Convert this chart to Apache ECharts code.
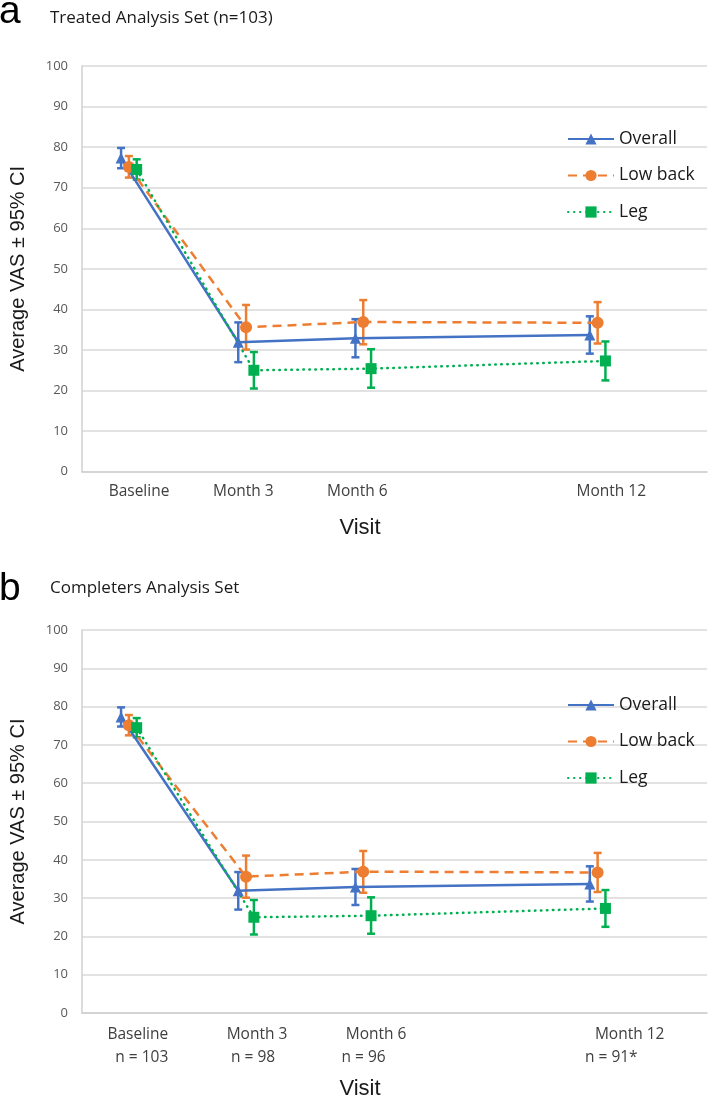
<!DOCTYPE html>
<html><head><meta charset="utf-8">
<script src="https://cdn.jsdelivr.net/npm/echarts@6/dist/echarts.min.js"></script>
<style>html,body{margin:0;padding:0;background:#fff}#c{width:709px;height:1101px}</style>
</head><body><div id="c"></div>
<script>
// ---------- data ----------
const seriesNames = ['Overall', 'Low back', 'Leg'];
const visitMonths = [0, 3, 6, 12];
const seriesOffsets = [0, 0.2, 0.4];           // small horizontal dodge per series (months)
const overallMean = [77.3, 31.9, 32.9, 33.7];
const overallLow  = [74.8, 27.0, 28.2, 29.1];
const overallHigh = [79.8, 36.8, 37.6, 38.3];
const lowBackMean = [75.1, 35.6, 36.9, 36.7];
const lowBackLow  = [72.5, 30.1, 31.4, 31.6];
const lowBackHigh = [77.8, 41.1, 42.3, 41.8];
const legMean = [74.5, 25.0, 25.4, 27.3];
const legLow  = [72.0, 20.5, 20.7, 22.5];
const legHigh = [77.0, 29.5, 30.2, 32.1];
const visitLabels = ['Baseline', 'Month 3', 'Month 6', 'Month 12'];
const visitLabelAtA = [0.46, 3.13, 6.05, 12.55];
const visitLabelAtB = [0.43, 3.48, 6.53, 13.02];
const nLabels = ['n = 103', 'n = 98', 'n = 96', 'n = 91*'];
const nLabelAtB = [0.53, 3.38, 6.21, 12.55];
const yMin = 0, yMax = 100, yStep = 10;
const xMin = -1, xMax = 15;

// ---------- styles ----------
const colors = ['#4472C4', '#ED7D31', '#00B050'];
const symbols = ['triangle', 'circle', 'rect'];
const symbolSizes = [11, 12, 11];
const lineTypes = ['solid', [9, 6], [0.5, 5.5]];
const lineCaps = ['butt', 'butt', 'round'];
const means = [overallMean, lowBackMean, legMean];
const lows = [overallLow, lowBackLow, legLow];
const highs = [overallHigh, lowBackHigh, legHigh];

const chart = echarts.init(document.getElementById('c'), null, {renderer: 'canvas'});
const tickFont = 'Open Sans';

function labelFormatter(positions, labels) {
  return function (value) {
    const i = positions.findIndex(p => Math.abs(p - value) < 1e-6);
    return i >= 0 ? labels[i] : '';
  };
}

const grids = [
  {left: 72, top: 66, width: 635, height: 405.7},
  {left: 72, top: 630, width: 635, height: 391.7}
];

function mainX(gridIndex, labelPos, margin, nameGap) {
  return {
    type: 'value', gridIndex: gridIndex, min: xMin, max: xMax, position: 'bottom',
    axisLine: {show: true, onZero: false, lineStyle: {color: '#D0D0D0', width: 1.5}},
    axisTick: {show: false}, splitLine: {show: false},
    axisLabel: {
      show: true, customValues: labelPos, formatter: labelFormatter(labelPos, visitLabels),
      margin: margin, fontFamily: tickFont, fontSize: 15.5, color: '#404040', hideOverlap: false
    },
    name: 'Visit', nameLocation: 'middle', nameGap: nameGap,
    nameTextStyle: {fontFamily: 'Liberation Sans', fontSize: 22, color: '#1a1a1a', padding: [0, 69, 0, 0]}
  };
}

const xAxes = [
  mainX(0, visitLabelAtA, 11.5, 45.5),
  mainX(1, visitLabelAtB, 14, 65),
  {
    type: 'value', gridIndex: 1, min: xMin, max: xMax, position: 'bottom', offset: 22.7,
    axisLine: {show: false}, axisTick: {show: false}, splitLine: {show: false},
    axisLabel: {
      show: true, customValues: nLabelAtB, formatter: labelFormatter(nLabelAtB, nLabels),
      margin: 14, fontFamily: tickFont, fontSize: 15.5, color: '#404040', hideOverlap: false
    }
  }
];

function yAx(gridIndex) {
  return {
    type: 'value', gridIndex: gridIndex, min: yMin, max: yMax, interval: yStep,
    axisLine: {show: true, onZero: false, lineStyle: {color: '#D0D0D0', width: 1.5}},
    axisTick: {show: false},
    splitLine: {show: true, lineStyle: {color: '#D9D9D9', width: 1.5}},
    axisLabel: {margin: 14, fontFamily: tickFont, fontSize: 13, color: '#595959'},
    name: 'Average VAS ± 95% CI', nameLocation: 'middle', nameGap: 54, nameRotate: 90,
    nameTextStyle: {fontFamily: 'Liberation Sans', fontSize: 20, color: '#1a1a1a'}
  };
}

const series = [];
[0, 1].forEach(function (g) {
  for (let s = 0; s < 3; s++) {
    const pts = visitMonths.map((m, i) => [m + seriesOffsets[s], means[s][i]]);
    const bars = visitMonths.map((m, i) => [m + seriesOffsets[s], lows[s][i], highs[s][i]]);
    series.push({
      type: 'custom', name: seriesNames[s] + ' CI', xAxisIndex: g === 0 ? 0 : 1, yAxisIndex: g,
      data: bars, z: 3, silent: true,
      encode: {x: 0, y: [1, 2]},
      renderItem: (function (col) {
        return function (params, api) {
          const x = api.value(0);
          const lo = api.coord([x, api.value(1)]);
          const hi = api.coord([x, api.value(2)]);
          const cw = 4;
          const st = {stroke: col, lineWidth: 2.5};
          return {
            type: 'group', children: [
              {type: 'line', shape: {x1: lo[0], y1: lo[1], x2: hi[0], y2: hi[1]}, style: st},
              {type: 'line', shape: {x1: lo[0] - cw, y1: lo[1], x2: lo[0] + cw, y2: lo[1]}, style: st},
              {type: 'line', shape: {x1: hi[0] - cw, y1: hi[1], x2: hi[0] + cw, y2: hi[1]}, style: st}
            ]
          };
        };
      })(colors[s])
    });
    series.push({
      type: 'line', name: seriesNames[s], xAxisIndex: g === 0 ? 0 : 1, yAxisIndex: g,
      data: pts, symbol: symbols[s], symbolSize: symbolSizes[s], showSymbol: true,
      z: 4, animation: false,
      itemStyle: {color: colors[s]},
      lineStyle: {color: colors[s], width: 2.5, type: lineTypes[s], cap: lineCaps[s]}
    });
  }
});

function legendFor(top) {
  return {
    orient: 'vertical', left: 562, top: top, data: seriesNames,
    itemWidth: 46, itemHeight: 14, itemGap: 18.5, selectedMode: false,
    textStyle: {fontFamily: tickFont, fontSize: 17.5, color: '#1a1a1a', lineHeight: 17, padding: [0, 0, 0, 0]}
  };
}

chart.setOption({
  animation: false,
  backgroundColor: '#ffffff',
  grid: grids,
  xAxis: xAxes,
  yAxis: [yAx(0), yAx(1)],
  legend: [legendFor(125), legendFor(691)],
  series: series,
  graphic: [
    {type: 'text', left: -1, top: -7, style: {text: 'a', font: '39px Liberation Sans', fill: '#000'}},
    {type: 'text', left: 50, top: 10, style: {text: 'Treated Analysis Set (n=103)', font: '17px Open Sans', fill: '#1a1a1a'}},
    {type: 'text', left: -1, top: 570, style: {text: 'b', font: '39px Liberation Sans', fill: '#000'}},
    {type: 'text', left: 50, top: 580, style: {text: 'Completers Analysis Set', font: '17px Open Sans', fill: '#1a1a1a'}}
  ]
});
</script>
</body></html>
